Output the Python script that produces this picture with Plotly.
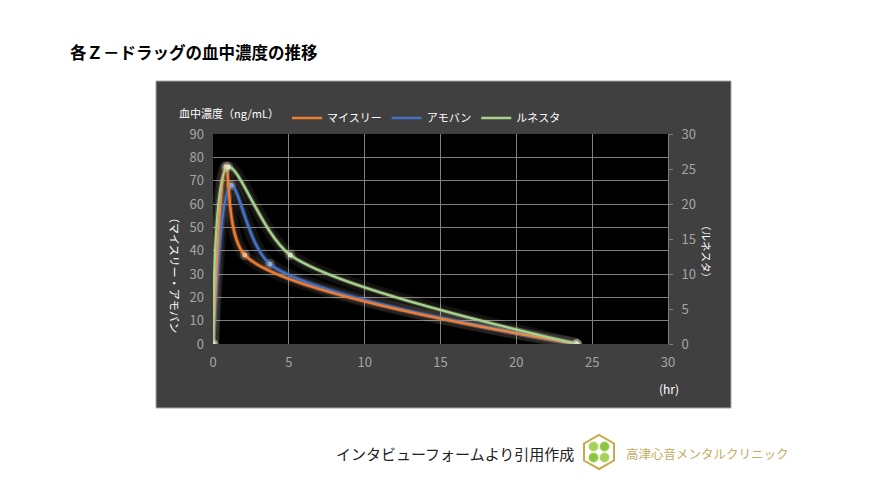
import plotly.graph_objects as go

# data
hours_myslee = [0, 0.85, 2.1, 24]
conc_myslee = [0, 76, 38.1, 0]

hours_amoban = [0, 1.2, 3.75, 24]
conc_amoban = [0, 68, 34.3, 0]

hours_lunesta = [0, 1.0, 5.1, 24]
conc_lunesta = [0, 25.3, 12.7, 0]   # right axis

names = ["マイスリー", "アモバン", "ルネスタ"]
colors = ["#ED7D31", "#4472C4", "#A9D18E"]
marker_colors = ["#F4B183", "#8FAADC", "#D5E8C8"]
glow_colors = ["rgba(237,125,49,0.30)", "rgba(68,114,196,0.35)", "rgba(169,209,142,0.25)"]

x_ticks = [0, 5, 10, 15, 20, 25, 30]
y_ticks = [0, 10, 20, 30, 40, 50, 60, 70, 80, 90]
y2_ticks = [0, 5, 10, 15, 20, 25, 30]

# page body adds an 8px margin, so the figure is a bit smaller than the window
OFF = 8
W, H = 886 - 2 * OFF, 498 - 2 * OFF
# plot area, in screenshot pixels
L, R, T, B = 213, 668, 134, 344


def px(X):
    return (X - L) / (R - L)


def py(Y):
    return (B - Y) / (B - T)


series = [
    (hours_myslee, conc_myslee, "y", 0),
    (hours_amoban, conc_amoban, "y", 1),
    (hours_lunesta, conc_lunesta, "y2", 2),
]
SMOOTH = 0.8

fig = go.Figure()

# soft glow under every line (Excel "glow" effect)
for xs, ys, ax, i in series:
    fig.add_trace(go.Scatter(
        x=xs, y=ys, yaxis=ax, mode="lines",
        line=dict(color="rgba(255,225,215,0.08)", width=12, shape="spline", smoothing=SMOOTH),
        hoverinfo="skip", showlegend=False))
    fig.add_trace(go.Scatter(
        x=xs, y=ys, yaxis=ax, mode="lines+markers",
        line=dict(color=glow_colors[i], width=5, shape="spline", smoothing=SMOOTH),
        marker=dict(size=10, color="rgba(255,240,230,0.22)"),
        hoverinfo="skip", showlegend=False))

# main lines; blue drawn first so orange sits on top of it
for xs, ys, ax, i in [series[1], series[0], series[2]]:
    fig.add_trace(go.Scatter(
        x=xs, y=ys, yaxis=ax, mode="lines", name=names[i],
        legendrank=i + 1,
        line=dict(color=colors[i], width=2.5, shape="spline", smoothing=SMOOTH)))
    fig.add_trace(go.Scatter(
        x=xs, y=ys, yaxis=ax, mode="markers", showlegend=False, hoverinfo="skip",
        marker=dict(size=5, color=marker_colors[i])))

tick_font = dict(family="Noto Sans CJK JP, Noto Sans", size=13, color="#A6A6A6")
grid = "#7F7F7F"

fig.update_layout(
    width=W, height=H,
    margin=dict(l=L - OFF, r=W - (R - OFF), t=T - OFF, b=H - (B - OFF), autoexpand=False),
    paper_bgcolor="white",
    plot_bgcolor="rgba(0,0,0,0)",
    font=dict(family="Noto Sans CJK JP, Noto Sans", color="white"),
    xaxis=dict(range=[0, 30], tickvals=x_ticks, showgrid=True, gridcolor=grid, gridwidth=1,
               zeroline=False, showline=False, tickfont=tick_font, ticks="",
               ticklabelstandoff=9, fixedrange=True),
    yaxis=dict(range=[0, 90], tickvals=y_ticks, showgrid=True, gridcolor=grid, gridwidth=1,
               zeroline=False, showline=False, tickfont=tick_font, ticks="",
               ticklabelstandoff=8, fixedrange=True),
    yaxis2=dict(range=[0, 30], tickvals=y2_ticks, overlaying="y", side="right",
                showgrid=False, zeroline=False, showline=True, linecolor=grid, linewidth=1,
                ticks="outside", ticklen=4, tickcolor=grid, tickfont=tick_font,
                ticklabelstandoff=6, fixedrange=True),
    legend=dict(orientation="h", x=px(177), y=py(118), xanchor="left", yanchor="middle",
                bgcolor="rgba(0,0,0,0)", font=dict(size=11, color="white"),
                title=dict(text="血中濃度（ng/mL）", side="left",
                           font=dict(size=11, color="white")),
                itemwidth=30, tracegroupgap=0),
    showlegend=True,
)

# chart panel and black plot area
fig.add_shape(type="rect", xref="paper", yref="paper", layer="below",
              x0=px(156), x1=px(731), y0=py(408), y1=py(81),
              fillcolor="#404040", line=dict(color="#A6A6A6", width=1))
fig.add_shape(type="rect", xref="paper", yref="paper", layer="below",
              x0=0, x1=1, y0=0, y1=1, fillcolor="black", line=dict(width=0))


def label(text, X, Y, size, color, xanchor="center", angle=0):
    fig.add_annotation(text=text, xref="paper", yref="paper", x=px(X), y=py(Y),
                       xanchor=xanchor, yanchor="middle", textangle=angle,
                       showarrow=False, font=dict(size=size, color=color))


# vertical axis titles and unit
label("（マイスリー・アモバン", 175, 272, 11, "white", angle=90)
label("（ルネスタ）", 707, 251, 10.5, "white", angle=90)
label("(hr)", 669, 388, 12, "white")

# page title
label("<b>各Ｚ－ドラッグの血中濃度の推移</b>", 68, 52, 16.5, "black", xanchor="left")

# source note and clinic mark
label("インタビューフォームより引用作成", 576, 453, 15, "#222222", xanchor="right")
label("高津心音メンタルクリニック", 624, 453, 12.5, "#C4AC62", xanchor="left")

hx, hy = 599, 452
hexagon = [(hx, hy - 17), (hx + 15, hy - 8.5), (hx + 15, hy + 8.5),
           (hx, hy + 17), (hx - 15, hy + 8.5), (hx - 15, hy - 8.5)]
path = "M " + " L ".join(f"{px(a):.4f},{py(b):.4f}" for a, b in hexagon) + " Z"
fig.add_shape(type="path", xref="paper", yref="paper", path=path,
              line=dict(color="#C9A94F", width=2))
for (cx, cy), c in zip([(593.5, 446.5), (604.5, 446.5), (593.5, 457.5), (604.5, 457.5)],
                       ["#A5D05A", "#8CC63F", "#8CC63F", "#A5D05A"]):
    fig.add_shape(type="circle", xref="paper", yref="paper",
                  x0=px(cx - 5), x1=px(cx + 5), y0=py(cy + 5), y1=py(cy - 5),
                  fillcolor=c, line=dict(color="#E8F4D0", width=1))

fig.write_html("out.html")
